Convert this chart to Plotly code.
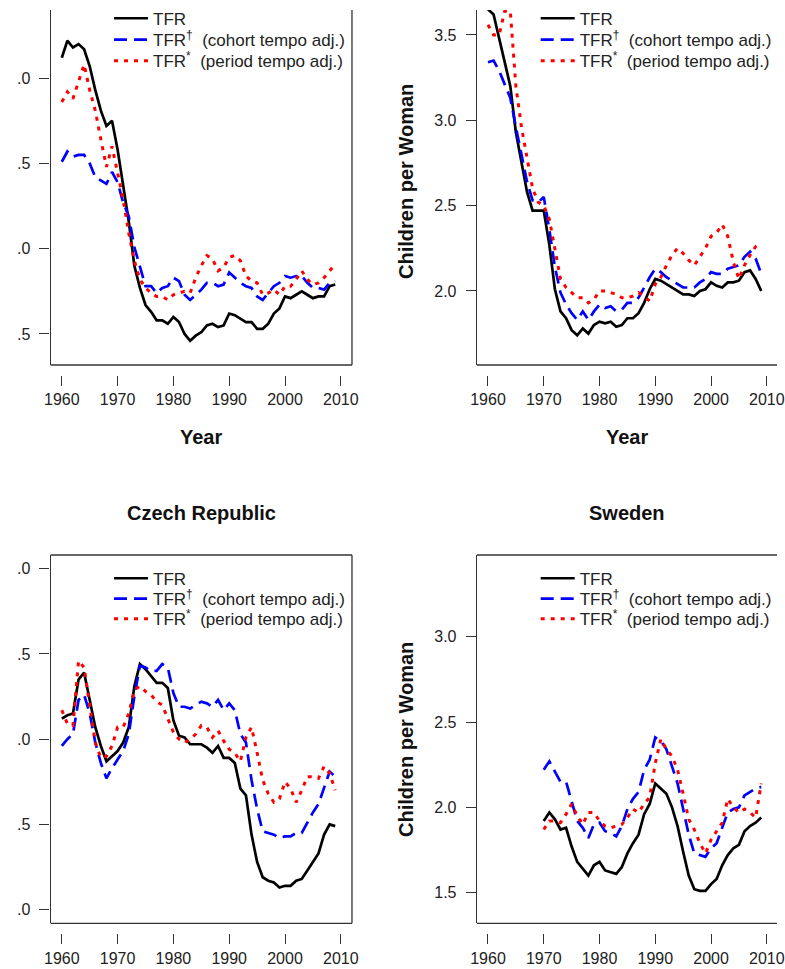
import plotly.graph_objects as go

# ---------------- data ----------------
years_1960 = list(range(1960, 2010))
years_1970 = list(range(1970, 2010))

nl_tfr = [3.12, 3.22, 3.18, 3.20, 3.17, 3.07, 2.93, 2.81, 2.72, 2.75,
          2.58, 2.36, 2.16, 1.90, 1.77, 1.67, 1.63, 1.58, 1.58, 1.56,
          1.60, 1.57, 1.50, 1.46, 1.49, 1.51, 1.55, 1.56, 1.54, 1.55,
          1.62, 1.61, 1.59, 1.57, 1.57, 1.53, 1.53, 1.56, 1.62, 1.65,
          1.72, 1.71, 1.73, 1.75, 1.73, 1.71, 1.72, 1.72, 1.78, 1.79]
nl_cohort = [2.51, 2.57, 2.54, 2.55, 2.55, 2.50, 2.42, 2.40, 2.38, 2.45,
             2.39, 2.27, 2.19, 2.01, 1.90, 1.78, 1.78, 1.74, 1.77, 1.78,
             1.83, 1.81, 1.73, 1.70, 1.73, 1.76, 1.80, 1.80, 1.78, 1.79,
             1.86, 1.83, 1.80, 1.78, 1.77, 1.72, 1.70, 1.74, 1.78, 1.80,
             1.84, 1.83, 1.84, 1.84, 1.80, 1.77, 1.77, 1.76, 1.80, 1.81]
nl_period = [2.86, 2.92, 2.88, 2.98, 3.08, 2.93, 2.81, 2.64, 2.48, 2.60,
             2.44, 2.29, 2.09, 1.93, 1.82, 1.77, 1.74, 1.72, 1.72, 1.70,
             1.73, 1.74, 1.75, 1.74, 1.83, 1.90, 1.96, 1.94, 1.87, 1.89,
             1.95, 1.96, 1.93, 1.84, 1.81, 1.80, 1.73, 1.74, 1.76, 1.73,
             1.78, 1.78, 1.82, 1.87, 1.82, 1.79, 1.80, 1.83, 1.87, 1.91]

us_tfr = [3.65, 3.62, 3.48, 3.34, 3.20, 2.93, 2.75, 2.58, 2.47, 2.47,
          2.47, 2.27, 2.01, 1.88, 1.84, 1.77, 1.74, 1.78, 1.75, 1.80,
          1.82, 1.81, 1.82, 1.79, 1.80, 1.84, 1.84, 1.87, 1.93, 2.01,
          2.07, 2.06, 2.04, 2.02, 2.00, 1.98, 1.98, 1.97, 2.00, 2.01,
          2.05, 2.03, 2.02, 2.05, 2.05, 2.06, 2.11, 2.12, 2.07, 2.00]
us_cohort = [3.34, 3.35, 3.29, 3.21, 3.13, 2.96, 2.79, 2.64, 2.53, 2.52,
             2.55, 2.36, 2.14, 1.99, 1.92, 1.87, 1.83, 1.88, 1.83, 1.88,
             1.92, 1.90, 1.91, 1.88, 1.89, 1.93, 1.93, 1.96, 2.02, 2.08,
             2.13, 2.11, 2.08, 2.06, 2.04, 2.02, 2.02, 2.02, 2.05, 2.07,
             2.11, 2.10, 2.10, 2.13, 2.14, 2.15, 2.20, 2.23, 2.19, 2.10]
us_period = [3.56, 3.50, 3.50, 3.64, 3.64, 3.20, 2.96, 2.78, 2.60, 2.52,
             2.50, 2.42, 2.24, 2.07, 2.02, 1.99, 1.96, 1.96, 1.93, 1.95,
             2.00, 2.00, 1.99, 1.98, 1.96, 1.96, 1.97, 1.99, 1.97, 1.94,
             2.04, 2.08, 2.15, 2.21, 2.25, 2.22, 2.18, 2.15, 2.20, 2.25,
             2.32, 2.34, 2.39, 2.32, 2.17, 2.07, 2.15, 2.21, 2.26, 2.28]

cz_tfr = [2.12, 2.14, 2.15, 2.35, 2.39, 2.23, 2.07, 1.96, 1.87, 1.90,
          1.93, 1.98, 2.07, 2.31, 2.44, 2.41, 2.37, 2.33, 2.33, 2.30,
          2.11, 2.02, 2.01, 1.97, 1.97, 1.97, 1.95, 1.92, 1.96, 1.89,
          1.89, 1.86, 1.71, 1.67, 1.44, 1.28, 1.19, 1.17, 1.16, 1.13,
          1.14, 1.14, 1.17, 1.18, 1.23, 1.28, 1.33, 1.44, 1.50, 1.49]
cz_cohort = [1.96, 2.00, 2.03, 2.23, 2.26, 2.15, 1.98, 1.86, 1.77, 1.83,
             1.88, 1.93, 2.03, 2.25, 2.43, 2.42, 2.40, 2.40, 2.44, 2.42,
             2.27, 2.19, 2.19, 2.18, 2.20, 2.22, 2.21, 2.19, 2.23, 2.17,
             2.21, 2.17, 2.03, 1.98, 1.76, 1.59, 1.46, 1.45, 1.44, 1.42,
             1.43, 1.43, 1.45, 1.45, 1.51, 1.57, 1.62, 1.72, 1.81, 1.78]
cz_period = [2.17, 2.09, 2.08, 2.46, 2.42, 2.19, 1.98, 1.89, 1.90, 1.96,
             2.07, 2.07, 2.15, 2.29, 2.31, 2.28, 2.26, 2.22, 2.20, 2.12,
             2.04, 2.00, 1.98, 2.00, 2.03, 2.08, 2.07, 2.01, 2.05, 1.99,
             1.94, 1.92, 1.87, 2.01, 2.07, 1.92, 1.76, 1.68, 1.63, 1.65,
             1.75, 1.71, 1.63, 1.70, 1.78, 1.78, 1.77, 1.84, 1.80, 1.70]

se_tfr = [1.92, 1.97, 1.93, 1.87, 1.88, 1.77, 1.68, 1.64, 1.60, 1.66,
          1.68, 1.63, 1.62, 1.61, 1.65, 1.73, 1.79, 1.84, 1.96, 2.02,
          2.14, 2.11, 2.08, 2.00, 1.89, 1.74, 1.60, 1.52, 1.51, 1.51,
          1.55, 1.58, 1.66, 1.72, 1.76, 1.78, 1.86, 1.89, 1.91, 1.94]
se_cohort = [2.22, 2.27, 2.21, 2.15, 2.15, 2.04, 1.92, 1.88, 1.82, 1.90,
             1.91, 1.86, 1.85, 1.83, 1.89, 1.99, 2.05, 2.09, 2.22, 2.28,
             2.41, 2.39, 2.34, 2.24, 2.14, 1.99, 1.84, 1.73, 1.72, 1.71,
             1.76, 1.79, 1.88, 1.97, 1.99, 2.00, 2.07, 2.09, 2.11, 2.12]
se_period = [1.87, 1.92, 1.92, 1.91, 1.96, 2.02, 1.95, 1.90, 1.97, 1.97,
             1.92, 1.89, 1.88, 1.89, 1.90, 1.94, 1.99, 1.97, 2.02, 2.06,
             2.26, 2.40, 2.34, 2.30, 2.22, 2.08, 1.93, 1.87, 1.79, 1.73,
             1.81, 1.86, 1.91, 2.05, 2.00, 1.97, 1.99, 1.97, 1.94, 2.14]

series_names = ["TFR",
                "TFR<sup>\u2020</sup>\u00a0 (cohort tempo adj.)",
                "TFR<sup>*</sup>\u00a0 (period tempo adj.)"]
x_ticks = [1960, 1970, 1980, 1990, 2000, 2010]
y_ticks_nl = [1.5, 2.0, 2.5, 3.0]
y_ticks_us = [2.0, 2.5, 3.0, 3.5]
y_ticks_cz = [1.0, 1.5, 2.0, 2.5, 3.0]
y_ticks_se = [1.5, 2.0, 2.5, 3.0]
y_title = "Children per Woman"
x_title = "Year"
panel_titles = ["Czech Republic", "Sweden"]

# ---------------- layout geometry (pixels) ----------------
W, H = 785, 969
FONT = "Liberation Sans, Arial, Helvetica, sans-serif"
AX = "#333333"

def px_x(p):
    return p / W

def px_y(p):
    return (H - p) / H

left_dom = [px_x(44.5), px_x(351.7)]
right_dom = [px_x(479), 1.0]
top_dom = [px_y(365), px_y(10)]
bot_dom = [px_y(923.3), px_y(555)]

styles = [
    dict(color="#000000", width=2.7, dash="solid"),
    dict(color="#0000FF", width=2.7, dash="13px,7px"),
    dict(color="#FF0000", width=3.0, dash="4px,6px"),
]

# legend rows: (text left x, row centre y) per panel
legend_left = [150, 585, 150, 585]
legend_rows = [[16.7, 38.0, 59.3], [16.7, 38.0, 59.3],
               [576.7, 597.0, 617.3], [576.7, 597.0, 617.3]]

panels = [
    dict(x=years_1960, ys=[nl_tfr, nl_cohort, nl_period], xa="x", ya="y"),
    dict(x=years_1960, ys=[us_tfr, us_cohort, us_period], xa="x2", ya="y2"),
    dict(x=years_1960, ys=[cz_tfr, cz_cohort, cz_period], xa="x3", ya="y3"),
    dict(x=years_1960, ys=[se_tfr, se_cohort, se_period], xa="x4", ya="y4"),
]
panels[3]["x"] = years_1970

fig = go.Figure()
legend_layout = {}
legend_font = dict(family=FONT, size=17, color="#222222")
ITEMW = 34
k = 0
for pi, p in enumerate(panels):
    for si, (name, ys, st) in enumerate(zip(series_names, p["ys"], styles)):
        k += 1
        leg_id = "legend" if k == 1 else f"legend{k}"
        fig.add_trace(go.Scatter(
            x=p["x"], y=ys, mode="lines", name=name,
            line=dict(color=st["color"], width=st["width"], dash=st["dash"]),
            xaxis=p["xa"], yaxis=p["ya"], legend=leg_id,
            hoverinfo="skip",
        ))
        legend_layout[leg_id] = dict(
            x=px_x(legend_left[pi] - (ITEMW + 12)),
            y=px_y(legend_rows[pi][si] - 16),
            xanchor="left", yanchor="top",
            bgcolor="rgba(0,0,0,0)", font=legend_font,
            itemwidth=ITEMW, tracegroupgap=0,
        )

tickfont = dict(family=FONT, size=16, color="#222222")

def xaxis_cfg(domain, rng, pos):
    return dict(domain=domain, range=rng, anchor="free", position=pos,
                showline=False, ticks="outside", ticklen=10, tickwidth=1.3,
                tickcolor=AX, tickvals=x_ticks, showgrid=False, zeroline=False,
                tickfont=tickfont, ticklabeloverflow="allow", fixedrange=True)

def yaxis_cfg(domain, rng, anchor, tickvals):
    return dict(domain=domain, range=rng, anchor=anchor,
                showline=True, linecolor=AX, linewidth=1.3,
                ticks="outside", ticklen=10, tickwidth=1.3, tickcolor=AX,
                tickvals=tickvals, tickformat=".1f", showgrid=False,
                zeroline=False, tickfont=tickfont, ticklabelstandoff=6,
                ticklabeloverflow="allow", fixedrange=True)

fig.update_layout(
    width=W, height=H,
    margin=dict(l=0, r=0, t=0, b=0),
    paper_bgcolor="white", plot_bgcolor="white",
    showlegend=True,
    xaxis=xaxis_cfg(left_dom, [1958, 2012], px_y(375)),
    xaxis2=xaxis_cfg(right_dom, [1958, 2011.83], px_y(375)),
    xaxis3=xaxis_cfg(left_dom, [1958, 2012], px_y(933.3)),
    xaxis4=xaxis_cfg(right_dom, [1958, 2011.83], px_y(933.3)),
    yaxis=yaxis_cfg(top_dom, [1.318, 3.400], "x", y_ticks_nl),
    yaxis2=yaxis_cfg(top_dom, [1.566, 3.646], "x2", y_ticks_us),
    yaxis3=yaxis_cfg(bot_dom, [0.92, 3.08], "x3", y_ticks_cz),
    yaxis4=yaxis_cfg(bot_dom, [1.32, 3.48], "x4", y_ticks_se),
    **legend_layout,
)

# box lines (R style box, cropped where the original image was cropped)
shapes = []
def seg(xa, ya, x0, y0, x1, y1):
    shapes.append(dict(type="line", xref=f"{xa} domain", yref=f"{ya} domain",
                       x0=x0, y0=y0, x1=x1, y1=y1,
                       line=dict(color=AX, width=1.3)))
seg("x", "y", 0, 0, 1, 0); seg("x", "y", 1, 0, 1, 1)
seg("x2", "y2", 0, 0, 1, 0)
seg("x3", "y3", 0, 0, 1, 0); seg("x3", "y3", 1, 0, 1, 1); seg("x3", "y3", 0, 1, 1, 1)
seg("x4", "y4", 0, 0, 1, 0); seg("x4", "y4", 0, 1, 1, 1)
# white strip where the original picture was cropped on the left
shapes.append(dict(type="rect", xref="paper", yref="paper", x0=0, x1=px_x(10.5),
                   y0=0, y1=1, fillcolor="white", line=dict(width=0), layer="above"))
fig.update_layout(shapes=shapes)

bold = dict(family=FONT, size=20, color="#111111")
ann = []
for xc in [(44.5 + 351.7) / 2, (479 + 786) / 2]:
    ann.append(dict(text=f"<b>{x_title}</b>", x=px_x(xc), y=px_y(437),
                    xref="paper", yref="paper", showarrow=False,
                    xanchor="center", yanchor="middle", font=bold))
for yc in [181, 739]:
    ann.append(dict(text=f"<b>{y_title}</b>", x=px_x(406.7), y=px_y(yc),
                    xref="paper", yref="paper", showarrow=False, textangle=-90,
                    xanchor="center", yanchor="middle", font=bold))
for title, xc in zip(panel_titles, [(44.5 + 351.7) / 2, (479 + 786) / 2]):
    ann.append(dict(text=f"<b>{title}</b>", x=px_x(xc), y=px_y(513.3),
                    xref="paper", yref="paper", showarrow=False,
                    xanchor="center", yanchor="middle", font=bold))
fig.update_layout(annotations=ann)

fig.write_html("out.html", config={"displayModeBar": False})
